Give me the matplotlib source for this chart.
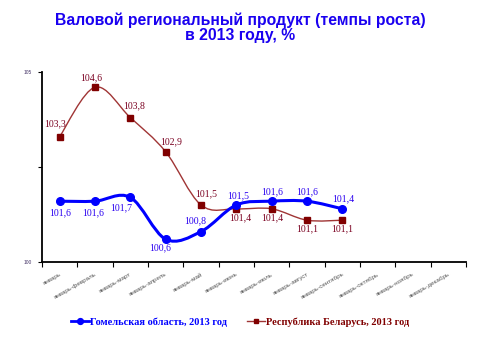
import matplotlib
matplotlib.use("Agg")
import matplotlib.pyplot as plt
import numpy as np
from matplotlib.path import Path
from matplotlib.patches import PathPatch
from matplotlib.lines import Line2D

# ---------------- data ----------------
categories = ["январь", "январь-февраль", "январь-март", "январь-апрель", "январь-май",
              "январь-июнь", "январь-июль", "январь-август", "январь-сентябрь",
              "январь-октябрь", "январь-ноябрь", "январь-декабрь"]
gomel = [101.6, 101.6, 101.7, 100.6, 100.8, 101.5, 101.6, 101.6, 101.4]
belarus = [103.3, 104.6, 103.8, 102.9, 101.5, 101.4, 101.4, 101.1, 101.1]
series_names = ["Гомельская область, 2013 год", "Республика Беларусь, 2013 год"]
title = "Валовой региональный продукт (темпы роста)\nв 2013 году, %"
y_ticks = [100, 102.5, 105]
y_ticklabels = ["100", "", "105"]

# ---------------- layout / style ----------------
gomel_offsets = [(0, -12), (-2, -12), (-9, -10), (-6, -9), (-6, 11), (2, 9), (0, 9), (0, 9), (1, 10)]
belarus_offsets = [(-5, 13), (-4, 9), (4, 12), (5, 10), (5, 11), (4, -9), (1, -9), (0, -9), (0, -9)]

blue = "#0000FF"
blue_lbl = "#2A00F0"
red_line = "#A03535"
red_mk = "#800000"
red_lbl = "#7A0020"

fig = plt.figure(figsize=(4.8, 3.6), dpi=100)
ax = fig.add_axes([42 / 480, 1 - 262 / 360, 424 / 480, 190 / 360])


def smooth_path(xs, ys):
    pts = np.column_stack([xs, ys]).astype(float)
    n = len(pts)
    verts = [pts[0]]
    codes = [Path.MOVETO]
    for i in range(n - 1):
        p0 = pts[i - 1] if i > 0 else pts[i]
        p1 = pts[i]
        p2 = pts[i + 1]
        p3 = pts[i + 2] if i + 2 < n else pts[i + 1]
        c1 = p1 + (p2 - p0) / 6.0
        c2 = p2 - (p3 - p1) / 6.0
        verts += [c1, c2, p2]
        codes += [Path.CURVE4] * 3
    return Path(verts, codes)


x_g = np.arange(len(gomel))
x_b = np.arange(len(belarus))

ax.add_patch(PathPatch(smooth_path(x_b, belarus), fill=False, edgecolor=red_line, lw=1.0, zorder=2))
ax.plot(x_b, belarus, ls="none", marker="s", ms=4.2, color=red_mk, zorder=3)

ax.add_patch(PathPatch(smooth_path(x_g, gomel), fill=False, edgecolor=blue, lw=2.2, zorder=4,
                       capstyle="round"))
ax.plot(x_g, gomel, ls="none", marker="o", ms=5.5, color=blue, zorder=5)

lbl_font = dict(family="Liberation Serif", size=7)
for xi, v, off in zip(x_g, gomel, gomel_offsets):
    ax.annotate(f"{v:.1f}".replace(".", ","), (xi, v), xytext=off, textcoords="offset pixels",
                ha="center", va="center", color=blue_lbl, **lbl_font)
for xi, v, off in zip(x_b, belarus, belarus_offsets):
    ax.annotate(f"{v:.1f}".replace(".", ","), (xi, v), xytext=off, textcoords="offset pixels",
                ha="center", va="center", color=red_lbl, **lbl_font)

ax.set_xlim(-0.5, len(categories) - 0.5)
ax.set_ylim(100, 105)
for s in ["top", "right"]:
    ax.spines[s].set_visible(False)
for s in ["left", "bottom"]:
    ax.spines[s].set_linewidth(1.3)
    ax.spines[s].set_color("black")

ax.set_yticks(y_ticks)
ax.set_yticklabels(y_ticklabels, family="Liberation Sans", fontsize=3.5, color="#443366")
ax.tick_params(axis="y", length=3, width=0.8, pad=4)

ax.set_xticks(np.arange(len(categories)))
ax.set_xticklabels(categories, rotation=30, ha="right", rotation_mode="anchor",
                   family="Liberation Sans", fontsize=4.5, color="#555555")
ax.tick_params(axis="x", which="major", length=0, pad=7)
ax.set_xticks(np.arange(len(categories) + 1) - 0.5, minor=True)
ax.tick_params(axis="x", which="minor", length=3.5, width=0.8)

fig.text(0.5, 1 - 28 / 360, title, ha="center", va="center", family="Liberation Sans",
         fontweight="bold", fontsize=11.3, color="#1A00F0", linespacing=1.0)

handles = [Line2D([], [], color=blue, lw=2.0, marker="o", ms=4.2),
           Line2D([], [], color=red_line, lw=1.0, marker="s", ms=3.0, mfc=red_mk, mec=red_mk)]
leg = fig.legend(handles, series_names, loc="center", bbox_to_anchor=(0.5, 1 - 322 / 360), ncol=2,
                 frameon=False, handlelength=1.7, handletextpad=0.05, columnspacing=2.0,
                 prop=dict(family="Liberation Serif", size=7.5, weight="bold"))
for t, c in zip(leg.get_texts(), [blue, red_mk]):
    t.set_color(c)

fig.savefig("out.png", dpi=100)
